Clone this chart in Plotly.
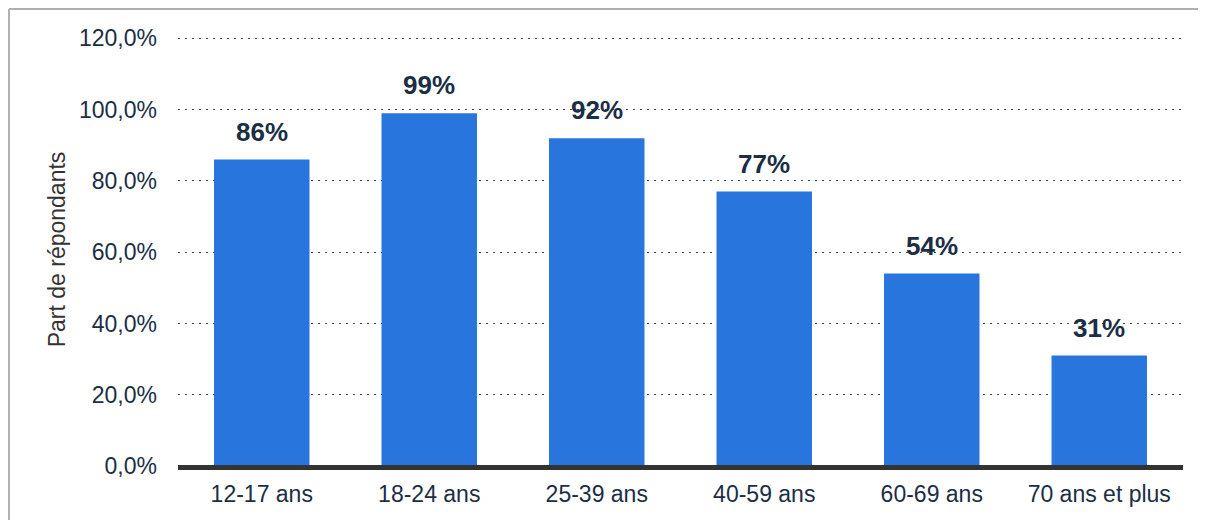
import plotly.graph_objects as go

# Data
age_groups = ["12-17 ans", "18-24 ans", "25-39 ans", "40-59 ans", "60-69 ans", "70 ans et plus"]
share_pct = [86, 99, 92, 77, 54, 31]
y_ticks = [0, 20, 40, 60, 80, 100, 120]
y_tick_labels = ["0,0%", "20,0%", "40,0%", "60,0%", "80,0%", "100,0%", "120,0%"]

BAR_COLOR = "#2876dd"
TEXT_COLOR = "#1b2e44"
FONT = "Liberation Sans, Arial, sans-serif"

# page body adds an 8px offset; figure spans page (8,8)..(1206,520)
W, H = 1198, 512
L, R, T, B = 170, 23, 25, 54
PW, PH = W - L - R, H - T - B

fig = go.Figure()

fig.add_trace(go.Bar(
    x=age_groups,
    y=share_pct,
    marker=dict(color=BAR_COLOR, line=dict(width=0)),
    hoverinfo="skip",
    showlegend=False,
))

# value labels above bars
for cat, val in zip(age_groups, share_pct):
    fig.add_annotation(
        x=cat, y=val,
        text=f"<b>{val}%</b>",
        showarrow=False,
        yanchor="bottom",
        yshift=11,
        font=dict(size=26, color=TEXT_COLOR, family=FONT),
    )

# thick baseline (paper ref so it isn't clipped by the plot area)
yb = -1.5 / PH
fig.add_shape(
    type="line", xref="paper", yref="paper",
    x0=0, x1=1, y0=yb, y1=yb,
    line=dict(color="#333333", width=5),
)

# outer frame (top + left edges visible)
fx0 = (1 - L) / PW
fy1 = (PH + T - 1) / PH
fig.add_shape(type="line", xref="paper", yref="paper",
              x0=fx0, x1=1.2, y0=fy1, y1=fy1,
              line=dict(color="#b0b0b0", width=2))
fig.add_shape(type="line", xref="paper", yref="paper",
              x0=fx0, x1=fx0, y0=fy1, y1=-0.3,
              line=dict(color="#b0b0b0", width=2))

fig.update_layout(
    width=W, height=H,
    margin=dict(l=L, r=R, t=T, b=B),
    plot_bgcolor="white",
    paper_bgcolor="white",
    bargap=0.43,
    font=dict(family=FONT, color=TEXT_COLOR, size=23),
    xaxis=dict(
        showgrid=False,
        showline=False,
        ticks="",
        tickfont=dict(size=23, color=TEXT_COLOR),
        ticklabelstandoff=12,
    ),
    yaxis=dict(
        range=[0, 121.5],
        tickvals=y_ticks,
        ticktext=y_tick_labels,
        showgrid=True,
        gridcolor="#3a4a5c",
        griddash="2px,5px",
        gridwidth=1,
        zeroline=False,
        showline=False,
        ticks="",
        tickfont=dict(size=23, color=TEXT_COLOR),
        ticklabelstandoff=20,
        title=dict(text="Part de répondants", font=dict(size=23, color="#333333"), standoff=6),
    ),
)

fig.write_html("out.html")
